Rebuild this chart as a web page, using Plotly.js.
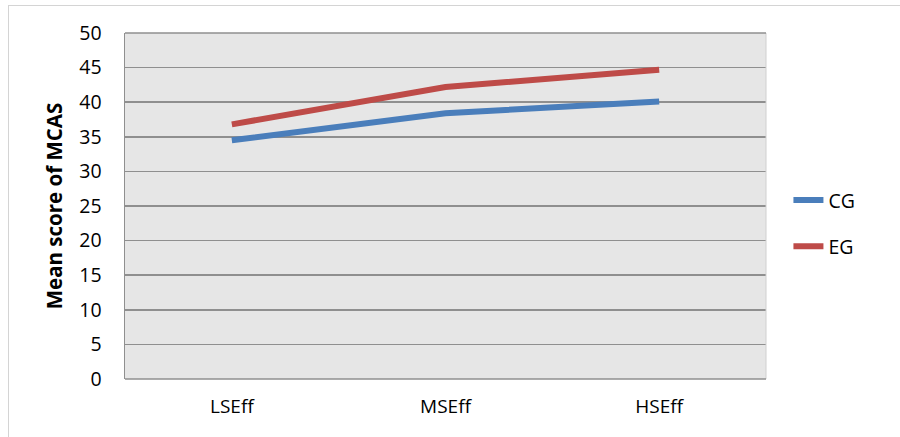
<!DOCTYPE html>
<html><head><meta charset="utf-8">
<script src="https://cdn.plot.ly/plotly-3.0.1.min.js"></script>
<style>
html,body{margin:0;padding:0;background:#fff;}
#wrap{position:absolute;left:8px;top:5px;width:892px;height:432px;border-left:1px solid #d4d4d4;border-top:1px solid #d4d4d4;}
#chart{width:891px;height:431px;}
</style></head><body>
<div id="wrap"><div id="chart"></div></div>
<script>
const categories = ["LSEff", "MSEff", "HSEff"];
const cgValues = [34.5, 38.4, 40.1];
const egValues = [36.8, 42.2, 44.7];
const yTicks = [0, 5, 10, 15, 20, 25, 30, 35, 40, 45, 50];

const traces = [
  {x: categories, y: cgValues, name: "CG", type: "scatter", mode: "lines", legendgroup: "a",
   line: {color: "#4a7ebb", width: 6}},
  {x: categories, y: egValues, name: "EG", type: "scatter", mode: "lines", legendgroup: "b",
   line: {color: "#be4b48", width: 6}}
];
const font = "Open Sans, Liberation Sans, sans-serif";
const layout = {
  width: 891, height: 431,
  margin: {l: 116, r: 134, t: 27, b: 58},
  paper_bgcolor: "#ffffff",
  plot_bgcolor: "#e6e6e6",
  showlegend: true,
  legend: {x: 1.035, xanchor: "left", y: 0.45, yanchor: "middle", font: {family: font, size: 19.5, color: "#000"},
           tracegroupgap: 18, bgcolor: "rgba(0,0,0,0)"},
  xaxis: {type: "category", range: [-0.5, 2.5], showgrid: false, zeroline: false, showline: false,
          ticks: "", tickfont: {family: font, size: 19, color: "#000"}, ticklabelstandoff: 14},
  yaxis: {range: [0, 50], tickvals: yTicks, showgrid: true, gridcolor: "#8f8f8f", gridwidth: 1.5,
          zeroline: false, showline: true, linecolor: "#8f8f8f", linewidth: 1.5, ticks: "",
          tickfont: {family: font, size: 19.5, color: "#000"}, ticklabelstandoff: 18,
          title: {text: "<b>Mean score of MCAS</b>", font: {family: font, size: 20.5, color: "#000"}, standoff: 11}},
  shapes: [
    {type: "line", xref: "paper", yref: "paper", x0: 1, x1: 1, y0: 0, y1: 1, line: {color: "#d0d0d0", width: 1}},
    {type: "line", xref: "paper", yref: "paper", x0: 0, x1: 1, y0: 1, y1: 1, line: {color: "#8f8f8f", width: 1.5}},
    {type: "line", xref: "paper", yref: "paper", x0: 0, x1: 1, y0: 0, y1: 0, line: {color: "#8f8f8f", width: 1.5}}
  ]
};
Plotly.newPlot("chart", traces, layout, {displayModeBar: false, staticPlot: true});
</script>
</body></html>
